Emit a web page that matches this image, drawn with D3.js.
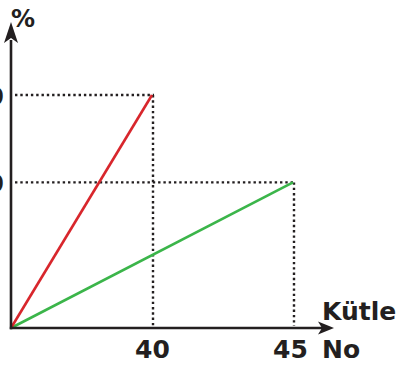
<!DOCTYPE html>
<html>
<head>
<meta charset="utf-8">
<script src="https://cdn.jsdelivr.net/npm/d3@7"></script>
<style>
html,body{margin:0;padding:0;background:#fff;overflow:hidden;}
svg{display:block;}
</style>
</head>
<body>
<svg id="chart" width="402" height="365"></svg>
<script>
// Data
const xCategories = [0, 40, 45];          // x positions (schematic, equally spaced)
const xTickLabels = ["40", "45"];
const yTickValues = [50, 80];
const yTickLabels = ["50", "80"];
const redSeries = [[0, 0], [40, 80]];
const greenSeries = [[0, 0], [45, 50]];
const xAxisTitle = ["Kütle", "No"];
const yAxisTitle = "%";

const svg = d3.select("#chart");
const ink = "#231f20";
const font = "'DejaVu Sans', sans-serif";

const x = d3.scalePoint().domain(xCategories).range([11, 293]);
const y = d3.scaleLinear().domain([0, 80]).range([328, 95]);

// dotted guide lines
const guides = [[40, 80], [45, 50]];
guides.forEach(([gx, gy]) => {
  svg.append("line")
    .attr("x1", x(0) + 4).attr("x2", x(gx) + 2)
    .attr("y1", y(gy)).attr("y2", y(gy))
    .attr("stroke", ink).attr("stroke-width", 2.4)
    .attr("stroke-dasharray", "2.4,2.9");
  svg.append("line")
    .attr("x1", x(gx) + 1).attr("x2", x(gx) + 1)
    .attr("y1", y(gy)).attr("y2", y(0) - 2)
    .attr("stroke", ink).attr("stroke-width", 2.4)
    .attr("stroke-dasharray", "2.4,2.9");
});

// series lines
const line = d3.line().x(d => x(d[0])).y(d => y(d[1]));
svg.append("path").datum(greenSeries).attr("d", line)
  .attr("fill", "none").attr("stroke", "#3bb54a").attr("stroke-width", 2.6);
svg.append("path").datum(redSeries).attr("d", line)
  .attr("fill", "none").attr("stroke", "#d8262c").attr("stroke-width", 2.6);

// axes lines with arrows
svg.append("line").attr("x1", x(0)).attr("x2", x(0))
  .attr("y1", y(0) + 1.2).attr("y2", 40)
  .attr("stroke", ink).attr("stroke-width", 2.6);
svg.append("path")
  .attr("d", `M${x(0)},22 L${x(0) + 7},43 L${x(0)},38 L${x(0) - 7},43 Z`)
  .attr("fill", ink);
svg.append("line").attr("x1", x(0) - 1.2).attr("x2", 322)
  .attr("y1", y(0)).attr("y2", y(0))
  .attr("stroke", ink).attr("stroke-width", 2.6);
svg.append("path")
  .attr("d", `M334,${y(0)} L318,${y(0) - 6.5} L322,${y(0)} L318,${y(0) + 6.5} Z`)
  .attr("fill", ink);

// x axis tick labels
const xAxis = d3.axisBottom(x).tickValues([40, 45]).tickSize(0).tickPadding(0)
  .tickFormat((d, i) => xTickLabels[i]);
const gx = svg.append("g").attr("transform", `translate(0,${y(0)})`).call(xAxis);
gx.select(".domain").remove();
gx.selectAll("text")
  .attr("y", 30).attr("dy", null)
  .attr("font-family", font).attr("font-weight", "bold")
  .attr("font-size", 25).attr("fill", ink);
gx.selectAll(".tick").filter(d => d === 45).select("text").attr("x", -3);

// y axis tick labels (cut at left edge, as in the reference)
const yAxis = d3.axisLeft(y).tickValues(yTickValues).tickSize(0).tickPadding(0)
  .tickFormat((d, i) => yTickLabels[i]);
const gy = svg.append("g").attr("transform", `translate(4,0)`).call(yAxis);
gy.select(".domain").remove();
gy.selectAll("text")
  .attr("dy", "0.36em")
  .attr("font-family", font).attr("font-weight", "bold")
  .attr("font-size", 25).attr("fill", ink);

// axis titles
svg.append("text").attr("x", 11).attr("y", 27)
  .attr("font-family", font).attr("font-weight", "bold")
  .attr("font-size", 24).attr("fill", ink).text(yAxisTitle);
svg.append("text").attr("x", 322).attr("y", 320)
  .attr("font-family", font).attr("font-weight", "bold")
  .attr("font-size", 25).attr("fill", ink).text(xAxisTitle[0]);
svg.append("text").attr("x", 322).attr("y", 358)
  .attr("font-family", font).attr("font-weight", "bold")
  .attr("font-size", 25).attr("fill", ink).text(xAxisTitle[1]);
</script>
</body>
</html>
